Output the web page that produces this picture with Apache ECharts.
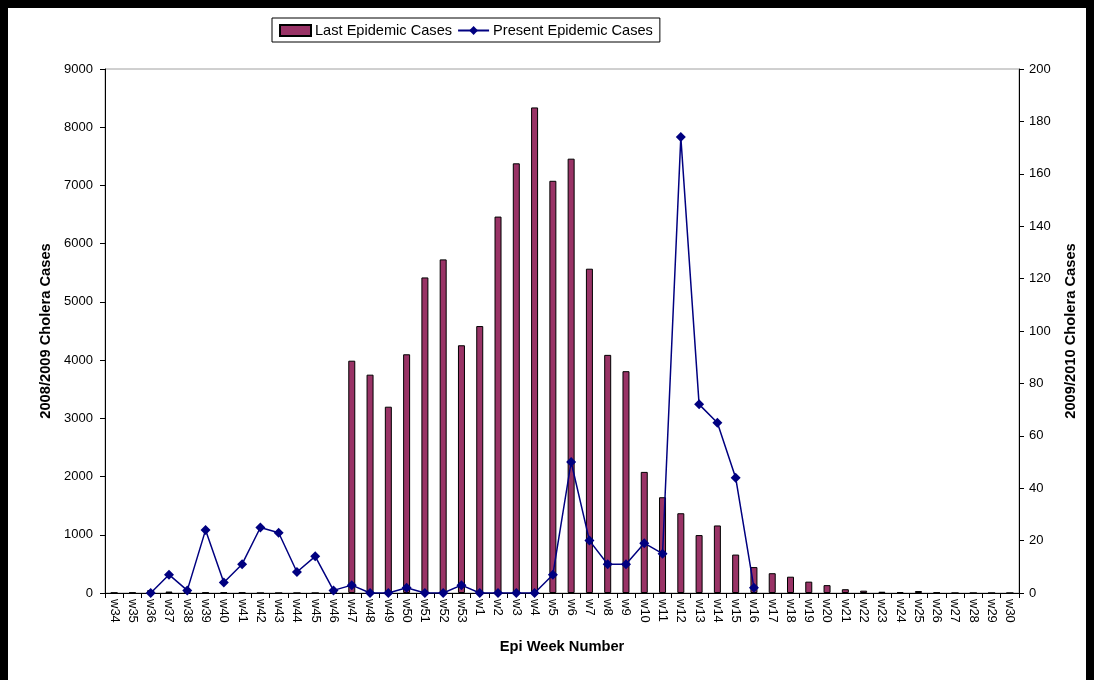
<!DOCTYPE html>
<html>
<head>
<meta charset="utf-8">
<script src="https://cdn.jsdelivr.net/npm/echarts@6/dist/echarts.min.js"></script>
<style>
html,body{margin:0;padding:0;background:#fff;}
#c{width:1094px;height:680px;}
</style>
</head>
<body>
<div id="c"></div>
<script>
const weeks = ['w34','w35','w36','w37','w38','w39','w40','w41','w42','w43','w44','w45','w46','w47','w48','w49','w50','w51','w52','w53',
  'w1','w2','w3','w4','w5','w6','w7','w8','w9','w10','w11','w12','w13','w14','w15','w16','w17','w18','w19','w20',
  'w21','w22','w23','w24','w25','w26','w27','w28','w29','w30'];
const lastEpidemic = [5,8,50,25,5,10,10,8,0,0,0,0,0,3990,3750,3200,4100,5420,5730,4255,
  4585,6465,7380,8340,7080,7460,5570,4090,3810,2080,1645,1370,995,1160,660,445,340,280,195,135,
  65,40,22,17,34,10,0,0,0,0];
const presentEpidemic = [null,null,0,7,1,24,4,11,25,23,8,14,1,3,0,0,2,0,0,3,
  0,0,0,0,7,50,20,11,11,19,15,174,72,65,44,2,null,null,null,null,
  null,null,null,null,null,null,null,null,null,null];
const leftTicks = {min:0, max:9000, interval:1000};
const rightTicks = {min:0, max:200, interval:20};

const FONT = 'Liberation Sans, Arial, sans-serif';
const chart = echarts.init(document.getElementById('c'), null, {renderer:'canvas'});
chart.setOption({
  animation:false,
  backgroundColor:'#fff',
  textStyle:{fontFamily:FONT, color:'#000'},
  legend:{
    left:272, top:18,
    borderColor:'#000', borderWidth:1, padding:[5,7,4,7],
    itemGap:5, itemWidth:31, itemHeight:11,
    textStyle:{fontFamily:FONT, fontSize:14.6, color:'#000', padding:[0,0,0,-1]},
    data:[{name:'Last Epidemic Cases', icon:'rect'},{name:'Present Epidemic Cases'}]
  },
  grid:{left:105, right:75, top:69, bottom:87, show:true, borderColor:'#a0a0a0', borderWidth:1},
  xAxis:{
    type:'category', data:weeks, boundaryGap:true,
    name:'Epi Week Number', nameLocation:'middle', nameGap:46,
    nameTextStyle:{fontFamily:FONT, fontSize:14.7, fontWeight:'bold', color:'#000'},
    axisLine:{lineStyle:{color:'#000', width:1}},
    axisTick:{show:true, length:5, inside:false, lineStyle:{color:'#000'}},
    axisLabel:{rotate:-90, interval:0, fontSize:13, margin:6, color:'#000', fontFamily:FONT},
    splitLine:{show:false}
  },
  yAxis:[{
    type:'value', position:'left', min:leftTicks.min, max:leftTicks.max, interval:leftTicks.interval,
    name:'2008/2009 Cholera Cases', nameLocation:'middle', nameRotate:90, nameGap:49,
    nameTextStyle:{fontFamily:FONT, fontSize:14.7, fontWeight:'bold', color:'#000'},
    axisLine:{show:true, lineStyle:{color:'#000', width:1}},
    axisTick:{show:true, length:5, lineStyle:{color:'#000'}},
    axisLabel:{fontSize:13, margin:12, color:'#000', fontFamily:FONT, formatter:function(v){return String(v);}},
    splitLine:{show:false}
  },{
    type:'value', position:'right', min:rightTicks.min, max:rightTicks.max, interval:rightTicks.interval,
    name:'2009/2010 Cholera Cases', nameLocation:'middle', nameRotate:90, nameGap:44,
    nameTextStyle:{fontFamily:FONT, fontSize:14.7, fontWeight:'bold', color:'#000'},
    axisLine:{show:true, lineStyle:{color:'#000', width:1}},
    axisTick:{show:true, length:5, lineStyle:{color:'#000'}},
    axisLabel:{fontSize:13, margin:10, color:'#000', fontFamily:FONT, formatter:function(v){return String(v);}},
    splitLine:{show:false}
  }],
  series:[{
    name:'Last Epidemic Cases', type:'bar', yAxisIndex:0, data:lastEpidemic,
    barWidth:7,
    itemStyle:{color:'#993366', borderColor:'#000', borderWidth:1}
  },{
    name:'Present Epidemic Cases', type:'line', yAxisIndex:1, data:presentEpidemic,
    symbol:'diamond', symbolSize:10, showSymbol:true, connectNulls:false,
    lineStyle:{color:'#000080', width:1.5},
    itemStyle:{color:'#000080'}
  }],
  graphic:[
    {type:'rect', shape:{x:0,y:0,width:1094,height:8}, style:{fill:'#000'}, silent:true},
    {type:'rect', shape:{x:0,y:0,width:8,height:680}, style:{fill:'#000'}, silent:true},
    {type:'rect', shape:{x:1086,y:0,width:8,height:680}, style:{fill:'#000'}, silent:true}
  ]
});
</script>
</body>
</html>
